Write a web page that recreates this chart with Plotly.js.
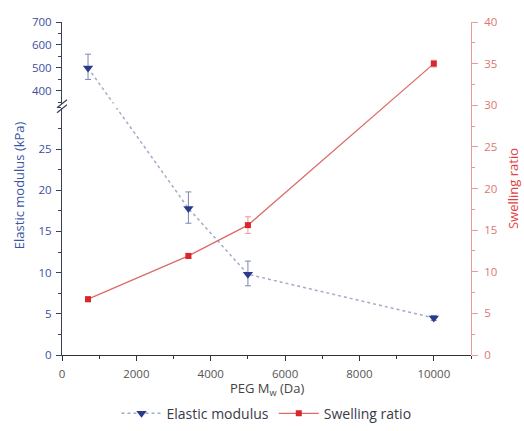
<!DOCTYPE html>
<html><head><meta charset="utf-8">
<script src="https://cdn.plot.ly/plotly-3.0.1.min.js"></script>
<style>html,body{margin:0;padding:0;background:#fff}#chart{width:524px;height:431px}</style>
</head><body><div id="chart"></div>
<script>
// ---- data ----
const pegMw = [700, 3400, 5000, 10000];
const elasticModulus = [500, 17.8, 9.8, 4.5];
const elasticErrPlus = [60, 2.0, 1.6, 0.3];
const elasticErrMinus = [50, 1.8, 1.4, 0.3];
const swellingRatio = [6.7, 11.9, 15.6, 35.0];
const swellingErr = [0.3, 0.3, 1.0, 0.4];
const legendNames = ['Elastic modulus', 'Swelling ratio'];
const lowerTicks = [0, 5, 10, 15, 20, 25];
const upperTicks = [400, 500, 600, 700];

// ---- broken left axis setup ----
const loDom = [0, 0.742], loRange = [0, 30];
const upDom = [0.755, 1], upRange = [345, 700];
const breakAt = 100; // values above sit on the upper segment

function toFrac(v){
  if (v > breakAt) return upDom[0] + (v - upRange[0]) / (upRange[1]-upRange[0]) * (upDom[1]-upDom[0]);
  return loDom[0] + (v - loRange[0]) / (loRange[1]-loRange[0]) * (loDom[1]-loDom[0]);
}
function fracToLo(f){ return loRange[0] + (f - loDom[0]) / (loDom[1]-loDom[0]) * (loRange[1]-loRange[0]); }
function fracToUp(f){ return upRange[0] + (f - upDom[0]) / (upDom[1]-upDom[0]) * (upRange[1]-upRange[0]); }
const loScale = (loRange[1]-loRange[0])/(loDom[1]-loDom[0]);
const upScale = (upRange[1]-upRange[0])/(upDom[1]-upDom[0]);
function errIn(arr, toLo){
  return arr.map((e,i)=>{
    const onUp = elasticModulus[i] > breakAt;
    if (toLo) return onUp ? e/upScale*loScale : e;
    return onUp ? e : e/loScale*upScale;
  });
}

const emLo = elasticModulus.map(v => fracToLo(toFrac(v)));
const emUp = elasticModulus.map(v => fracToUp(toFrac(v)));

const blue = '#2c3a8e', blueLine = '#a4abc9', blueErr = '#7d86b3';
const red = '#d8262b', redLine = '#dc6a6a', redErr = '#e99a9a';
const font = '"Open Sans", Lato, sans-serif';

const emStyle = {
  mode: 'lines+markers',
  line: {color: blueLine, width: 1.5, dash: 'dot'},
  marker: {symbol: 'triangle-down', size: 9, color: blue},
  x: pegMw
};
const traces = [
  {
    name: legendNames[1], x: pegMw, y: swellingRatio, xaxis: 'x', yaxis: 'y2',
    mode: 'lines+markers', legendrank: 2,
    line: {color: redLine, width: 1.3},
    marker: {symbol: 'square', size: 6, color: red},
    error_y: {type:'data', array: swellingErr, color: redErr, thickness: 1, width: 3}
  },
  Object.assign({}, emStyle, {
    name: legendNames[0], y: emLo, xaxis: 'x', yaxis: 'y', showlegend: true, legendrank: 1,
    error_y: {type:'data', symmetric:false, array: errIn(elasticErrPlus,true), arrayminus: errIn(elasticErrMinus,true), color: blueErr, thickness: 1, width: 3}
  }),
  Object.assign({}, emStyle, {
    name: legendNames[0], y: emUp, xaxis: 'x', yaxis: 'y3', showlegend: false,
    error_y: {type:'data', symmetric:false, array: errIn(elasticErrPlus,false), arrayminus: errIn(elasticErrMinus,false), color: blueErr, thickness: 1, width: 3}
  })
];

const leftAxisCommon = {
  showline: true, linecolor: '#3a3f5c', linewidth: 1,
  ticks: 'outside', ticklen: 5, tickcolor: '#3a3f5c', ticklabelstandoff: 2,
  tickfont: {family: font, size: 11.5, color: '#3c4fa0'},
  showgrid: false, zeroline: false, anchor: 'x', side: 'left'
};

const layout = {
  width: 524, height: 431,
  margin: {l: 62, r: 53, t: 22, b: 76, autoexpand: false},
  paper_bgcolor: '#fff', plot_bgcolor: 'rgba(0,0,0,0)',
  font: {family: font},
  showlegend: true,
  legend: {orientation: 'h', x: 0.5, xanchor: 'center', yref: 'container', y: 0.04, yanchor: 'middle',
           itemwidth: 40,
           font: {family: font, size: 14, color: '#3a3a48'}, bgcolor: 'rgba(0,0,0,0)'},
  xaxis: {
    range: [0, 11000], showline: true, linecolor: '#333', linewidth: 1,
    ticks: 'outside', ticklen: 5, tickcolor: '#333', dtick: 2000, tick0: 0, tickformat: 'd',
    ticklabelstandoff: 3,
    minor: {dtick: 1000, ticklen: 3, ticks: 'outside', tickcolor: '#333'},
    tickfont: {family: font, size: 11.5, color: '#555'},
    showgrid: false, zeroline: false, anchor: 'y'
  },
  xaxis2: {
    range: [0, 11000], overlaying: 'x', anchor: 'y3', side: 'top',
    showline: true, linecolor: '#333', linewidth: 1,
    ticks: 'inside', ticklen: 5, tickcolor: '#333', dtick: 1000, tick0: 0,
    showticklabels: false, showgrid: false, zeroline: false
  },
  yaxis: Object.assign({}, leftAxisCommon, {
    domain: loDom, range: loRange, tickmode: 'array', tickvals: lowerTicks,
    minor: {dtick: 2.5, ticklen: 3, ticks: 'outside', tickcolor: '#3a3f5c'}
  }),
  yaxis3: Object.assign({}, leftAxisCommon, {
    domain: upDom, range: upRange, tickmode: 'array', tickvals: upperTicks,
    minor: {dtick: 50, ticklen: 3, ticks: 'outside', tickcolor: '#3a3f5c'}
  }),
  yaxis2: {
    domain: [0, 1], range: [0, 40], anchor: 'x', side: 'right',
    showline: true, linecolor: '#e79a9a', linewidth: 1,
    ticks: 'outside', ticklen: 6, tickcolor: '#e79a9a', dtick: 5, tick0: 0, ticklabelstandoff: 4,
    minor: {dtick: 2.5, ticklen: 3, ticks: 'outside', tickcolor: '#e79a9a'},
    tickfont: {family: font, size: 11.5, color: '#e07575'},
    showgrid: false, zeroline: false,
    title: {text: 'Swelling ratio', font: {family: font, size: 13, color: '#e0403f'}, standoff: 12}
  },
  annotations: [{
    text: 'Elastic modulus (kPa)', xref: 'paper', yref: 'paper',
    x: 0, xanchor: 'center', yanchor: 'middle', xshift: -43, y: 0.51, textangle: -90, showarrow: false,
    font: {family: font, size: 13, color: '#3b54a5'}
  }, {
    text: 'PEG M<sub>w</sub> (Da)', xref: 'paper', yref: 'paper',
    x: 0.5, y: 0, xanchor: 'center', yanchor: 'middle', yshift: -34, showarrow: false,
    font: {family: font, size: 13, color: '#444'}
  }],
  shapes: [0, 1].map(k => ({
    type: 'line', xref: 'paper', yref: 'paper',
    xsizemode: 'pixel', ysizemode: 'pixel', xanchor: 0, yanchor: (loDom[1]+upDom[0])/2,
    x0: -5, x1: 5, y0: -7 + k*5, y1: 1 + k*5,
    line: {color: '#3a3f5c', width: 1.2}
  }))
};

Plotly.newPlot('chart', traces, layout, {displayModeBar: false, staticPlot: true});
</script></body></html>
